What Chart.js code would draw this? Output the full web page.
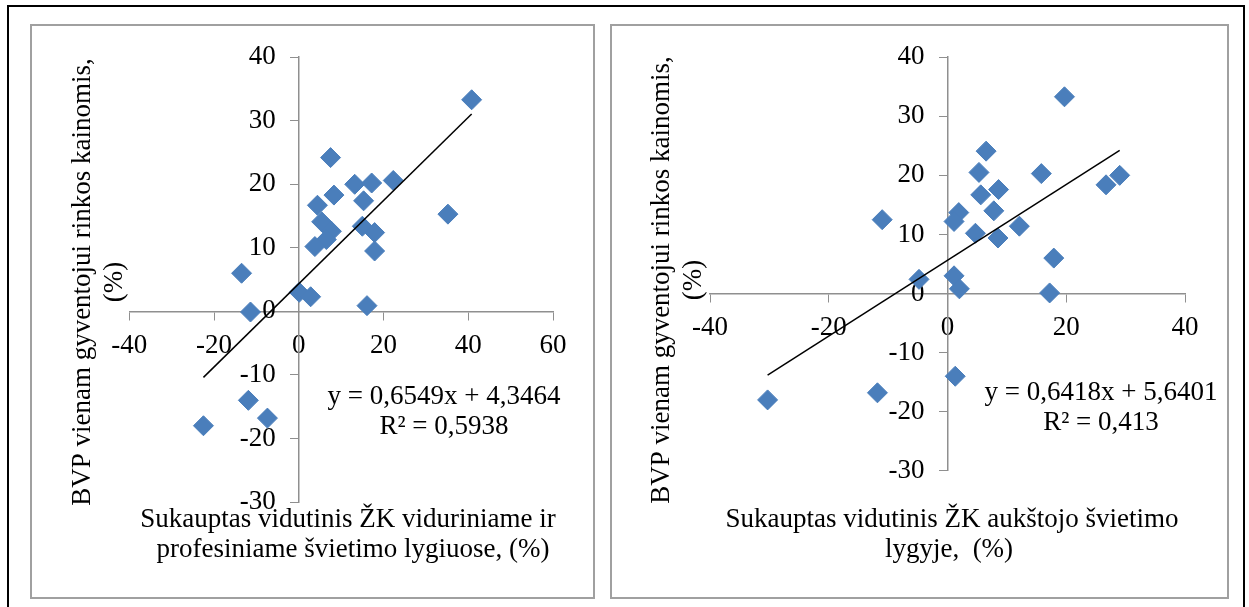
<!DOCTYPE html>
<html><head><meta charset="utf-8">
<script src="https://cdn.jsdelivr.net/npm/chart.js@4.4.1/dist/chart.umd.min.js"></script>
<style>
html,body{margin:0;padding:0;background:#fff;width:1249px;height:607px;overflow:hidden;}
#frame{position:absolute;left:7px;top:5px;width:1234px;height:700px;border:2px solid #000;box-sizing:content-box;}
.box{position:absolute;top:24px;height:571px;border:2px solid #a0a0a0;}
#boxL{left:30px;width:561px;}
#boxR{left:610px;width:615px;}
canvas{position:absolute;left:0;top:0;}
</style></head>
<body>
<div id="frame"></div>
<div class="box" id="boxL"><canvas id="cL" width="561" height="571"></canvas></div>
<div class="box" id="boxR"><canvas id="cR" width="615" height="571"></canvas></div>
<script>
// ---- data ----
const leftX = [40.8, 7.5, 13.2, 17.2, 22.3, 8.3, 15.3, 4.4, 5.4, 7.7, 6.5, 3.8, 15.0, 17.9, 17.9, 0.1, 2.8, 16.1, 35.2, -13.5, -11.4, -22.5, -11.9, -7.4];
const leftY = [33.3, 24.2, 20.0, 20.2, 20.6, 18.3, 17.4, 16.7, 14.1, 12.6, 11.3, 10.2, 13.4, 12.4, 9.5, 3.0, 2.3, 0.9, 15.3, 6.0, -0.1, -18.0, -14.0, -16.8];
const rightX = [19.7, 6.5, 5.3, 15.8, 29.0, 26.7, 8.6, 5.6, 7.8, 1.9, 1.1, -11.0, 12.1, 4.7, 8.5, 17.9, -4.8, 1.1, 2.0, 17.2, 1.3, -11.8, -30.3];
const rightY = [33.3, 24.1, 20.5, 20.3, 20.0, 18.4, 17.6, 16.7, 14.0, 13.7, 12.2, 12.5, 11.4, 10.2, 9.4, 6.0, 2.4, 3.0, 0.8, 0.1, -14.0, -16.8, -18.0];
const leftTrendX = [-22.5, 40.8];
const leftTrendY = [-10.39, 31.07];
const rightTrendX = [-30.3, 29.0];
const rightTrendY = [-13.81, 24.25];
const leftXTicks = [-40, -20, 0, 20, 40, 60];
const rightXTicks = [-40, -20, 0, 20, 40];
const yTicks = [-30, -20, -10, 0, 10, 20, 30, 40];
const yTitleLines = ['BVP vienam gyventojui rinkos kainomis,', '(%)'];
const leftXTitle = ['Sukauptas vidutinis ŽK viduriniame ir', 'profesiniame švietimo lygiuose, (%)'];
const rightXTitle = ['Sukauptas vidutinis ŽK aukštojo švietimo', 'lygyje,  (%)'];
const leftEq = ['y = 0,6549x + 4,3464', 'R² = 0,5938'];
const rightEq = ['y = 0,6418x + 5,6401', 'R² = 0,413'];

const FONT = '"Liberation Serif", "Times New Roman", serif';
const AXIS = '#8f8f8f';
const MARK = '#4a7ebb';

function pts(xs, ys) { return xs.map((x, i) => ({x: x, y: ys[i]})); }

const textPlugin = {
  id: 'texts',
  beforeDraw(chart) {
    const ys = chart.scales.y, xs = chart.scales.x;
    const items = ys.getLabelItems();
    const ax = xs.getPixelForValue(0);
    const off = ys.options.grid.tickLength + ys.options.ticks.padding;
    items.forEach(it => { it.options.translation[0] = ax - off; it.options.textAlign = 'right'; });
  },
  afterDraw(chart, args, o) {
    const ctx = chart.ctx;
    ctx.save();
    ctx.fillStyle = '#000';
    ctx.font = '27px ' + FONT;
    ctx.textAlign = 'center';
    ctx.textBaseline = 'alphabetic';
    ctx.fillText(o.xTitle[0], o.xTitleX, o.xTitleY);
    ctx.fillText(o.xTitle[1], o.xTitleX2, o.xTitleY + o.lineGap);
    ctx.fillText(o.eq[0], o.eqX, o.eqY);
    ctx.fillText(o.eq[1], o.eqX, o.eqY + o.eqGap);
    ctx.translate(o.yTitleX, o.yTitleY);
    ctx.rotate(-Math.PI / 2);
    ctx.textBaseline = 'middle';
    ctx.fillText(o.yTitle[0], 0, 0);
    ctx.fillText(o.yTitle[1], 0, o.yGap);
    ctx.restore();
  }
};

function makeChart(id, px, py, tx, ty, xMin, xMax, xTicks, pad, texts) {
  return new Chart(document.getElementById(id), {
    type: 'scatter',
    data: {
      datasets: [
        {
          data: pts(tx, ty), showLine: true, borderColor: '#000', borderWidth: 1.5,
          pointRadius: 0, fill: false, order: 0, clip: false
        },
        {
          data: pts(px, py), pointStyle: 'rectRot', pointRadius: 10, pointHoverRadius: 10,
          backgroundColor: MARK, borderColor: MARK, borderWidth: 1, order: 1, clip: false
        }
      ]
    },
    options: {
      responsive: false,
      devicePixelRatio: 1,
      animation: false,
      events: [],
      layout: { padding: pad },
      plugins: { legend: { display: false }, tooltip: { enabled: false }, texts: texts },
      scales: {
        x: {
          type: 'linear', min: xMin, max: xMax,
          position: { y: 0 },
          afterBuildTicks: s => { s.ticks = xTicks.map(v => ({value: v})); },
          grid: { drawOnChartArea: false, drawTicks: true, tickLength: 8, color: AXIS, tickColor: AXIS },
          border: { display: true, color: AXIS, width: 1.5 },
          ticks: { font: { family: FONT, size: 27 }, color: '#000', padding: 10, maxRotation: 0, autoSkip: false }
        },
        y: {
          type: 'linear', min: -30, max: 40,
          position: { x: 0 },
          afterBuildTicks: s => { s.ticks = yTicks.map(v => ({value: v})); },
          grid: { drawOnChartArea: false, drawTicks: true, tickLength: 8, color: AXIS, tickColor: AXIS },
          border: { display: true, color: AXIS, width: 1.5 },
          ticks: { font: { family: FONT, size: 27 }, color: '#000', padding: 15, autoSkip: false }
        }
      }
    },
    plugins: [textPlugin]
  });
}

makeChart('cL', leftX, leftY, leftTrendX, leftTrendY, -40, 60, leftXTicks,
  { left: 97.3, right: 40, top: 26.5, bottom: 95 },
  { xTitle: leftXTitle, xTitleX: 316, xTitleX2: 321, xTitleY: 501, lineGap: 30,
    eq: leftEq, eqX: 412, eqY: 378, eqGap: 30,
    yTitle: yTitleLines, yTitleX: 51, yTitleY: 256, yGap: 32 });

makeChart('cR', rightX, rightY, rightTrendX, rightTrendY, -40, 40, rightXTicks,
  { left: 98, right: 42, top: 26.9, bottom: 126.2 },
  { xTitle: rightXTitle, xTitleX: 340, xTitleX2: 337, xTitleY: 501, lineGap: 30,
    eq: rightEq, eqX: 489, eqY: 374, eqGap: 30,
    yTitle: yTitleLines, yTitleX: 50, yTitleY: 254, yGap: 32 });
</script>
</body></html>
